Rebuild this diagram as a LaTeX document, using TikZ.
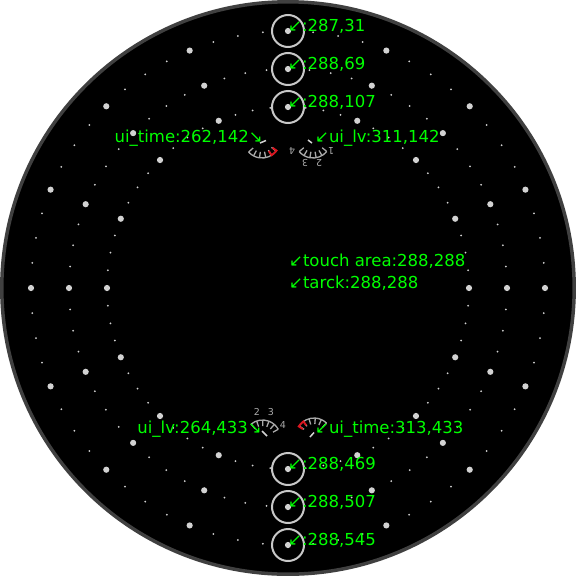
\documentclass[tikz,border=0pt]{standalone}
\usepackage{fontspec}
\setmainfont{DejaVu Sans}
\definecolor{rim}{RGB}{64, 64, 64}
\definecolor{spot}{RGB}{210, 210, 210}
\definecolor{ringc}{RGB}{200, 200, 200}
\definecolor{dial}{RGB}{170, 170, 170}
\definecolor{mark}{RGB}{0, 255, 0}
\definecolor{alert}{RGB}{220, 20, 30}
\newcommand{\dialface}{
  \draw[dialline] (-140:18) arc (-140:-40:18);
  \foreach \a in {-140,-120,-100,-80,-60,-40}
    \draw[dialline] (\a:18) -- (\a:12);
}

\begin{document}
\begin{tikzpicture}[x=1pt,y=-1pt]
    \tikzstyle{target} = [circle, draw=ringc, line width=2pt, minimum size=32pt, inner sep=0pt];
    \tikzstyle{lbl} = [text=mark, font=\fontsize{16.5pt}{18pt}\selectfont, inner sep=0pt, anchor=base west];
    \tikzstyle{lblr} = [lbl, anchor=base east];
    \tikzstyle{digit} = [text=dial, font=\fontsize{9.5pt}{10pt}\selectfont, inner sep=0pt];
    \tikzstyle{dialline} = [draw=dial, line width=1.3pt];
    \tikzstyle{needle} = [draw=spot, line width=1.5pt];
    \tikzset{
      pics/dial/.style={code={\dialface}},
      pics/timedial/.style={code={
        \dialface
        \draw[draw=alert, line width=1.8pt] (-142:13) -- (-142:18) arc (-142:-120:18) -- (-120:13);
      }}
    }
    \useasboundingbox (0,0) rectangle (576,576);
    \fill[white] (0,0) rectangle (576,576);
    \draw[draw=rim, fill=black, line width=3.5pt] (288,288) circle (286.2);

    % the three rings of spots
    \foreach \rad in {257,219,181}
      \foreach \i in {0,...,63} {
        \pgfmathtruncatemacro\rem{mod(\i,4)}
        \ifnum\rem=0
          \fill[spot] ([shift={(288,288)}]\i*5.625:\rad) circle (3.1);
        \else
          \fill[spot] ([shift={(288,288)}]\i*5.625:\rad) circle (1);
        \fi
      }

    % targets
    \node [target] (t1) at (288,31) {};
    \node [target] (t2) at (288,69) {};
    \node [target] (t3) at (288,107) {};
    \node [target] (t4) at (288,469) {};
    \node [target] (t5) at (288,507) {};
    \node [target] (t6) at (288,545) {};

    % dials
    \pic[rotate=182] at (262,140) {timedial};
    \pic[rotate=180] at (313,140) {dial};
    \pic[rotate=-11] at (262.5,438) {dial};
    \pic[rotate=6] at (314,436) {timedial};
    \draw[needle] (260,143) -- (266,140.5);
    \draw[needle] (308,140) -- (312,143);
    \draw[needle] (262,431) -- (267,436);
    \draw[needle] (310,437) -- (314,432.5);

    \node [digit, rotate=180] (d1) at (331,151) {1};
    \node [digit, rotate=180] (d2) at (319,163) {2};
    \node [digit, rotate=180] (d3) at (305,163) {3};
    \node [digit, rotate=180] (d4) at (292,151) {4};
    \node [digit] (e2) at (257,412) {2};
    \node [digit] (e3) at (271,412) {3};
    \node [digit] (e4) at (283,425) {4};

    % labels
    \node [lbl] (l1) at (288,31) {↙:287,31};
    \node [lbl] (l2) at (288,69) {↙:288,69};
    \node [lbl] (l3) at (288,107) {↙:288,107};
    \node [lbl] (l4) at (288,469) {↙:288,469};
    \node [lbl] (l5) at (288,507) {↙:288,507};
    \node [lbl] (l6) at (288,545) {↙:288,545};
    \node [lblr] (uit) at (263,142) {ui\_time:262,142↘};
    \node [lbl] (uil) at (315,142) {↙ui\_lv:311,142};
    \node [lbl] (touch) at (289,266) {↙touch area:288,288};
    \node [lbl] (track) at (289,288) {↙tarck:288,288};
    \node [lblr] (uil2) at (262,433) {ui\_lv:264,433↘};
    \node [lbl] (uit2) at (315,433) {↙ui\_time:313,433};
\end{tikzpicture}
\end{document}
